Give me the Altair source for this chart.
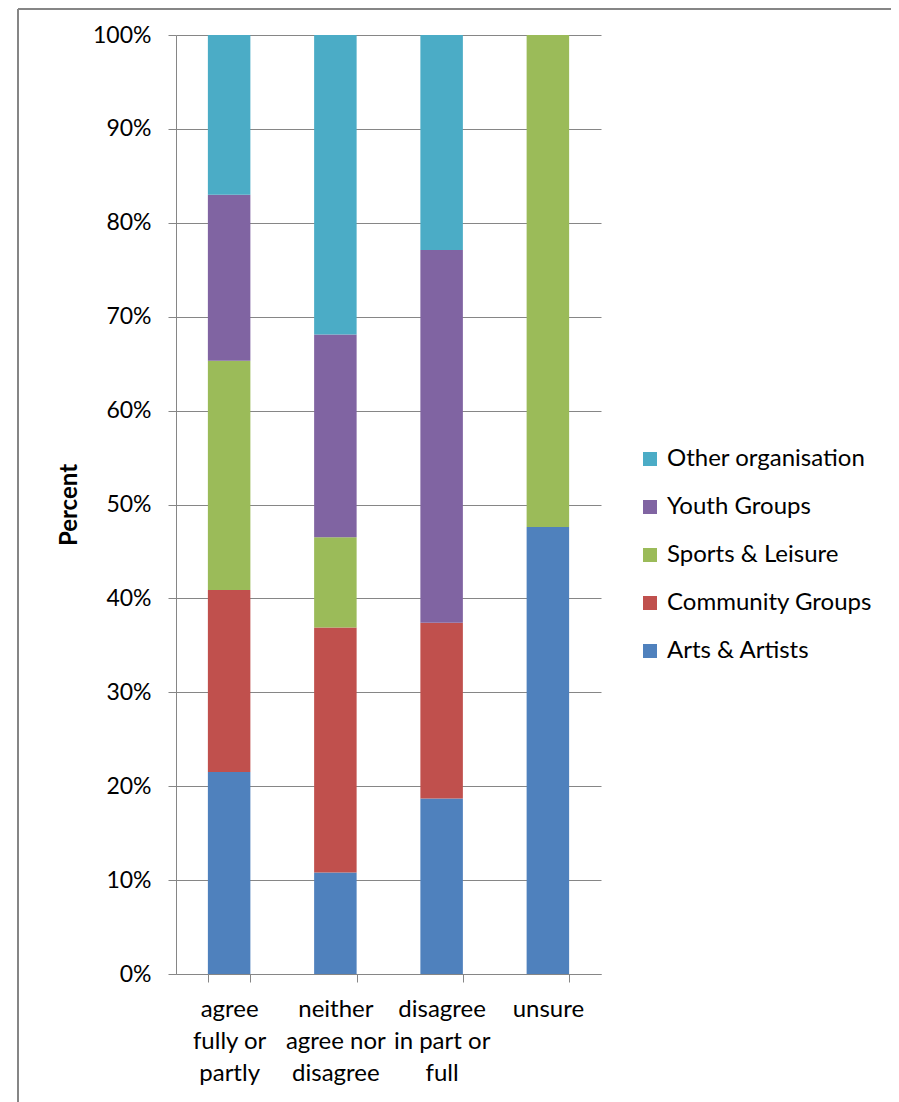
import altair as alt
import pandas as pd

categories = ["agree|fully or|partly", "neither|agree nor|disagree", "disagree|in part or|full", "unsure"]
series = ["Arts & Artists", "Community Groups", "Sports & Leisure", "Youth Groups", "Other organisation"]
colors = ["#4F81BD", "#C0504D", "#9BBB59", "#8064A2", "#4BACC6"]

arts = [21.5, 10.8, 18.7, 47.6]
community = [19.4, 26.1, 18.7, 0.0]
sports = [24.4, 9.6, 0.0, 52.4]
youth = [17.7, 21.6, 39.7, 0.0]
other = [17.0, 31.9, 22.9, 0.0]

y_ticks = [0, 0.1, 0.2, 0.3, 0.4, 0.5, 0.6, 0.7, 0.8, 0.9, 1.0]

rows = []
for si, (name, vals) in enumerate(zip(series, [arts, community, sports, youth, other])):
    for c, v in zip(categories, vals):
        rows.append({"cat": c, "series": name, "value": v, "order": si})
df = pd.DataFrame(rows)

FONT = "Lato"
GRID = "#868686"

bars = alt.Chart(df).mark_bar().encode(
    x=alt.X("cat:N", sort=categories, title=None,
            scale=alt.Scale(paddingInner=0.6, paddingOuter=0.3),
            axis=alt.Axis(labelExpr="split(datum.label, '|')", labelAngle=0,
                          labelLineHeight=32, labelFontSize=24, labelFont=FONT,
                          labelColor="black", labelPadding=15, labelBaseline="top",
                          labelLimit=0,
                          tickBand="extent", tickSize=8, tickColor=GRID,
                          domainColor=GRID, grid=False)),
    y=alt.Y("value:Q", stack="normalize", title="Percent",
            scale=alt.Scale(domain=[0, 1], nice=False),
            axis=alt.Axis(values=y_ticks, format=".0%", labelFontSize=23, labelFont=FONT,
                          labelColor="black", labelPadding=17, tickSize=8,
                          tickColor=GRID, domainColor=GRID, gridColor=GRID,
                          titleFont=FONT, titleFontSize=24, titleFontWeight="bold",
                          titleColor="black", titlePadding=11)),
    color=alt.Color("series:N",
                    scale=alt.Scale(domain=series[::-1], range=colors[::-1]),
                    legend=alt.Legend(title=None, orient="none", legendX=462, legendY=412,
                                      symbolType="square", symbolSize=196,
                                      symbolStrokeWidth=0, labelFont=FONT,
                                      labelFontSize=24, labelColor="black", labelLimit=0,
                                      rowPadding=24, labelOffset=5)),
    order=alt.Order("order:Q", sort="ascending"),
)

frame_left = alt.Chart(df).mark_rule(color=GRID, strokeWidth=1.5).encode(
    x=alt.value(-158), y=alt.value(-26), y2=alt.value(1070))
frame_top = alt.Chart(df).mark_rule(color=GRID, strokeWidth=1.5).encode(
    x=alt.value(-158), x2=alt.value(740), y=alt.value(-26))

chart = alt.layer(frame_left, frame_top, bars).properties(
    width=425, height=939,
    autosize=alt.AutoSizeParams(type="none"),
    padding={"left": 168, "top": 27, "right": 290, "bottom": 128},
).configure_view(stroke=None)

chart.save("out.html", embed_options={"renderer": "svg", "actions": False})
